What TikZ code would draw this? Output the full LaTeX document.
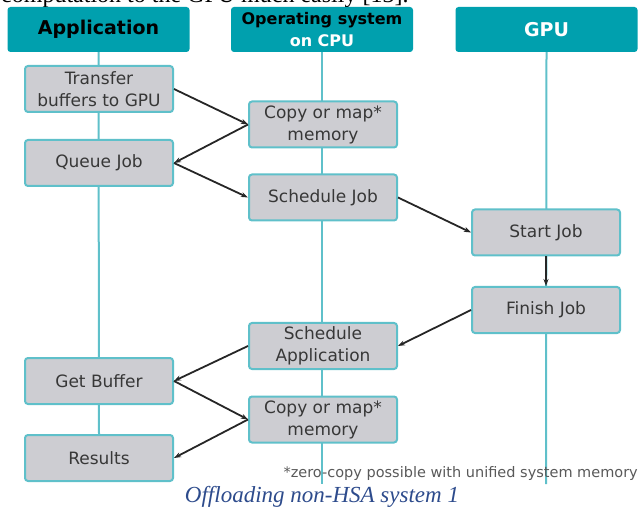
\documentclass[tikz,border=0pt]{standalone}
\usepackage{fontspec}
\setmainfont{Liberation Serif}
\newfontfamily\diagfont{DejaVu Sans}
\usepackage{xcolor}
\usepackage{tikz}
\usetikzlibrary{positioning, arrows.meta, calc, backgrounds}

\definecolor{hsateal}{RGB}{0,160,174}
\definecolor{laneteal}{RGB}{95,192,202}
\definecolor{jobgray}{RGB}{205,205,210}
\definecolor{jobtext}{RGB}{55,55,55}
\definecolor{capblue}{RGB}{45,75,140}

\begin{document}
\begin{tikzpicture}[
  x=1pt, y=-1pt,
  header/.style={fill=hsateal, rounded corners=3pt, minimum width=182pt, minimum height=45pt, align=center, inner sep=0pt, font=\diagfont\bfseries\fontsize{19}{22}\selectfont},
  jobbox/.style={draw=laneteal, line width=2pt, fill=jobgray, rounded corners=3pt, minimum width=148pt, minimum height=46pt, align=center, inner sep=0pt, text=jobtext, font=\diagfont\fontsize{17}{22}\selectfont},
  lane/.style={draw=laneteal, line width=2pt},
  arr/.style={-{Stealth[length=7pt, width=5pt]}, line width=1.8pt, black!85},
]
\useasboundingbox (0,0) rectangle (642,510);

% === Text of the page around the figure ===
\begin{scope}
  \clip (0,0) rectangle (642,510);
  \node[anchor=base west, inner sep=0pt, font=\fontsize{24}{28}\selectfont] (prevline) at (1,3) {computation to the GPU much easily [13].};
\end{scope}
\node[anchor=base, inner sep=0pt, text=capblue, font=\itshape\fontsize{23}{28}\selectfont] (caption) at (322,502) {Offloading non-HSA system 1};

% === Column headers ===
\node[header] (apphead) at (98.5,29.5) {Application};
\node[header, font=\diagfont\bfseries\fontsize{16}{22}\selectfont] (oshead) at (322,29.5) {Operating system\\\textcolor{white}{on CPU}};
\node[header, text=white] (gpuhead) at (546.5,29.5) {GPU};

% === Application column ===
\node[jobbox] (transfer) at (99,89) {Transfer\\buffers to GPU};
\node[jobbox] (queue) at (99,163) {Queue Job};
\node[jobbox] (getbuf) at (99,381) {Get Buffer};
\node[jobbox] (results) at (99,458) {Results};

% === OS column ===
\node[jobbox] (copyin) at (323,124.5) {Copy or map*\\memory};
\node[jobbox] (schedjob) at (323,197.5) {Schedule Job};
\node[jobbox] (schedapp) at (323,346) {Schedule\\Application};
\node[jobbox] (copyout) at (323,419.5) {Copy or map*\\memory};

% === GPU column ===
\node[jobbox] (start) at (546,232.5) {Start Job};
\node[jobbox] (finish) at (546,310) {Finish Job};

% Footnote
\node[anchor=base east, inner sep=0pt, text=black!65, font=\diagfont\fontsize{14.5}{17}\selectfont] (note) at (638,477) {*zero-copy possible with unified system memory};

% === Lanes ===
\coordinate (osend) at (322,484);
\coordinate (gpuend) at (546,484);
\begin{scope}[on background layer]
  \draw[lane] (apphead.south) -- (results.north);
  \draw[lane] (oshead.south) -- (osend);
  \draw[lane] (gpuhead.south) -- (gpuend);
\end{scope}

% === Flow ===
\draw[arr] (transfer.east) -- (copyin.west);
\draw[arr] (copyin.west) -- (queue.east);
\draw[arr] (queue.east) -- (schedjob.west);
\draw[arr] (schedjob.east) -- (start.west);
\draw[arr] (start) -- (finish);
\draw[arr] (finish.west) -- (schedapp.east);
\draw[arr] (schedapp.west) -- (getbuf.east);
\draw[arr] (getbuf.east) -- (copyout.west);
\draw[arr] (copyout.west) -- (results.east);

\end{tikzpicture}
\end{document}
